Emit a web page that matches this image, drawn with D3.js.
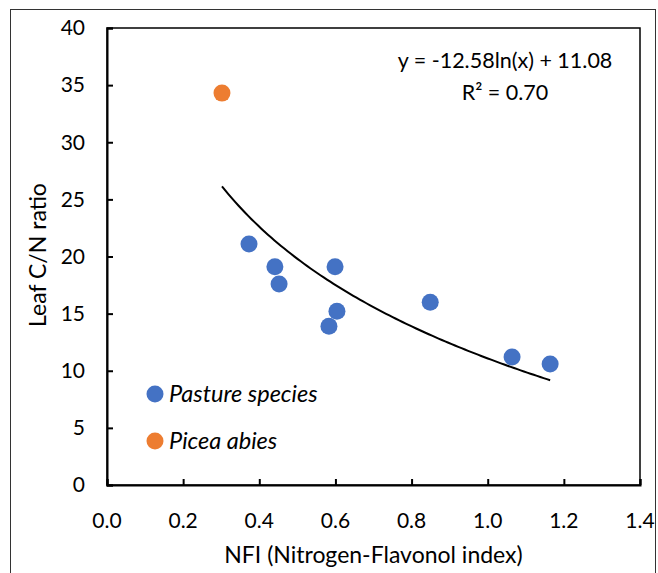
<!DOCTYPE html>
<html>
<head>
<meta charset="utf-8">
<script src="https://cdn.jsdelivr.net/npm/d3@7"></script>
<style>
  body { margin: 0; background: #fff; }
  text { font-family: Lato, "Open Sans", sans-serif; fill: #000; }
</style>
</head>
<body>
<svg id="chart"></svg>
<script>
// Data
const pastureNfi = [0.373, 0.441, 0.452, 0.599, 0.604, 0.583, 0.849, 1.064, 1.164];
const pastureCn = [21.1, 19.1, 17.6, 19.1, 15.2, 13.9, 16.0, 11.2, 10.6];
const piceaNfi = [0.302];
const piceaCn = [34.3];
const xTicks = [0, 0.2, 0.4, 0.6, 0.8, 1.0, 1.2, 1.4];
const yTicks = [0, 5, 10, 15, 20, 25, 30, 35, 40];
const fitSlope = -12.58;
const fitIntercept = 11.08;
const fitLabel = 'y = -12.58ln(x) + 11.08';
const r2Label = 'R² = 0.70';

const translate = (x, y) => `translate(${x}, ${y})`;

// Layout
const WIDTH = 658;
const HEIGHT = 573;
const PLOT_LEFT = 107;
const PLOT_RIGHT = 640;
const PLOT_TOP = 28;
const PLOT_BOTTOM = 485;
const DOT_RADIUS = 8.5;
const TICK_SIZE = 6;
const LABEL_SIZE = 21;
const TITLE_SIZE = 23;
const LEGEND_SIZE = 23.5;

const BLUE = '#4472C4';
const ORANGE = '#ED7D31';

const svg = d3.select('#chart')
  .attr('width', WIDTH)
  .attr('height', HEIGHT);

// outer frame
svg.append('rect')
  .attr('x', 10.5).attr('y', 9.5)
  .attr('width', 645).attr('height', 600)
  .attr('fill', 'none')
  .attr('stroke', '#333')
  .attr('stroke-width', 1);

const x = d3.scaleLinear().domain([0, 1.4]).range([PLOT_LEFT, PLOT_RIGHT]);
const y = d3.scaleLinear().domain([0, 40]).range([PLOT_BOTTOM, PLOT_TOP]);

// plot box
svg.append('rect')
  .attr('x', PLOT_LEFT).attr('y', PLOT_TOP)
  .attr('width', PLOT_RIGHT - PLOT_LEFT).attr('height', PLOT_BOTTOM - PLOT_TOP)
  .attr('fill', 'none')
  .attr('stroke', '#000')
  .attr('stroke-width', 1.5);

// x axis, ticks point inward
const xAxis = svg.append('g')
  .attr('transform', translate(0, PLOT_BOTTOM))
  .call(d3.axisTop(x).tickValues(xTicks).tickSize(TICK_SIZE).tickFormat(''));
xAxis.select('.domain').attr('stroke-width', 2);
xAxis.selectAll('.tick line').attr('stroke-width', 2);

svg.append('g')
  .selectAll('text')
  .data(xTicks)
  .enter()
  .append('text')
  .attr('x', d => x(d))
  .attr('y', PLOT_BOTTOM + 43)
  .attr('text-anchor', 'middle')
  .attr('font-size', LABEL_SIZE)
  .text(d3.format('.1f'));

// y axis, ticks point inward
const yAxis = svg.append('g')
  .attr('transform', translate(PLOT_LEFT, 0))
  .call(d3.axisRight(y).tickValues(yTicks).tickSize(TICK_SIZE).tickFormat(''));
yAxis.select('.domain').attr('stroke-width', 2);
yAxis.selectAll('.tick line').attr('stroke-width', 2);

svg.append('g')
  .selectAll('text')
  .data(yTicks)
  .enter()
  .append('text')
  .attr('x', PLOT_LEFT - 22)
  .attr('y', d => y(d))
  .attr('dy', '0.35em')
  .attr('text-anchor', 'end')
  .attr('font-size', LABEL_SIZE)
  .text(d => d);

// axis titles
svg.append('text')
  .attr('x', (PLOT_LEFT + PLOT_RIGHT) / 2)
  .attr('y', 563)
  .attr('text-anchor', 'middle')
  .attr('font-size', TITLE_SIZE)
  .text('NFI (Nitrogen-Flavonol index)');

svg.append('text')
  .attr('transform', translate(46, 255) + ' rotate(-90)')
  .attr('text-anchor', 'middle')
  .attr('font-size', TITLE_SIZE)
  .text('Leaf C/N ratio');

// log trendline over the x range of the data
const allNfi = pastureNfi.concat(piceaNfi);
const [minNfi, maxNfi] = d3.extent(allNfi);
const fitX = d3.range(0, 101).map(i => minNfi + (maxNfi - minNfi) * i / 100);
const line = d3.line()
  .x(d => x(d))
  .y(d => y(fitSlope * Math.log(d) + fitIntercept));

svg.append('path')
  .datum(fitX)
  .attr('d', line)
  .attr('fill', 'none')
  .attr('stroke', '#000')
  .attr('stroke-width', 2);

// points
svg.append('g')
  .selectAll('circle')
  .data(pastureNfi.map((v, i) => [v, pastureCn[i]]))
  .enter()
  .append('circle')
  .attr('cx', d => x(d[0]))
  .attr('cy', d => y(d[1]))
  .attr('r', DOT_RADIUS)
  .attr('fill', BLUE);

svg.append('g')
  .selectAll('circle')
  .data(piceaNfi.map((v, i) => [v, piceaCn[i]]))
  .enter()
  .append('circle')
  .attr('cx', d => x(d[0]))
  .attr('cy', d => y(d[1]))
  .attr('r', DOT_RADIUS)
  .attr('fill', ORANGE);

// equation
svg.append('text')
  .attr('x', 505).attr('y', 68)
  .attr('text-anchor', 'middle')
  .attr('font-size', LABEL_SIZE + 0.5)
  .text(fitLabel);
svg.append('text')
  .attr('x', 505).attr('y', 100)
  .attr('text-anchor', 'middle')
  .attr('font-size', LABEL_SIZE + 0.5)
  .text(r2Label);

// legend
const legend = svg.append('g');
const legendItems = [
  { label: 'Pasture species', color: BLUE, cy: 394 },
  { label: 'Picea abies', color: ORANGE, cy: 441 },
];
legendItems.forEach(item => {
  legend.append('circle')
    .attr('cx', 155).attr('cy', item.cy)
    .attr('r', DOT_RADIUS)
    .attr('fill', item.color);
  legend.append('text')
    .attr('x', 169).attr('y', item.cy)
    .attr('dy', '0.35em')
    .attr('font-size', LEGEND_SIZE)
    .attr('font-style', 'italic')
    .text(item.label);
});
</script>
</body>
</html>
